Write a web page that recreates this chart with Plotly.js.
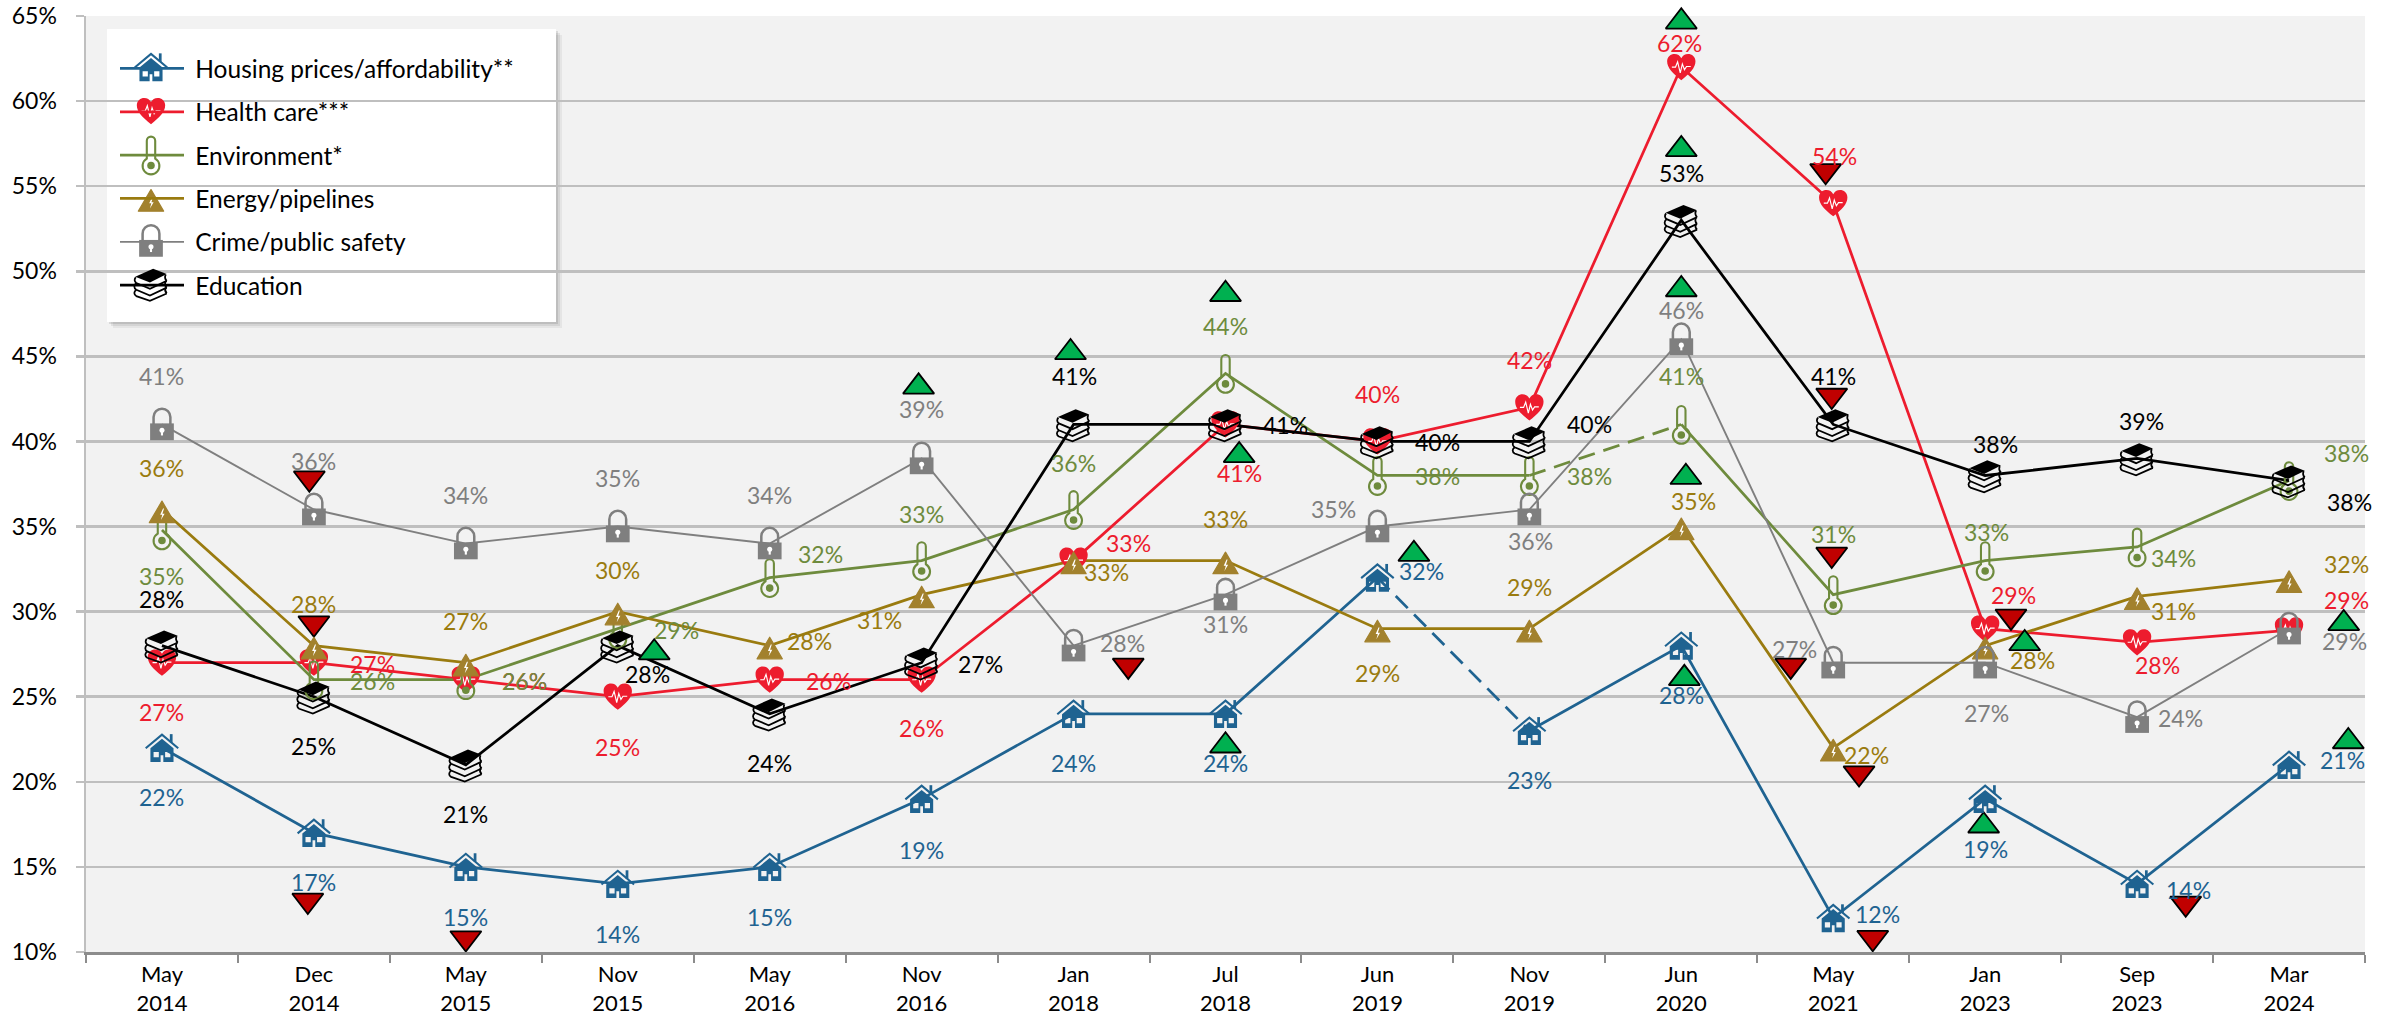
<!DOCTYPE html>
<html><head><meta charset="utf-8">
<script src="https://cdn.plot.ly/plotly-3.0.1.min.js"></script>
<style>html,body{margin:0;padding:0;background:#fff;overflow:hidden}#chart{width:2389px;height:1014px}</style>
</head><body><div id="chart"></div>
<script>
// ---------- data ----------
const months = ["May","Dec","May","Nov","May","Nov","Jan","Jul","Jun","Nov","Jun","May","Jan","Sep","Mar"];
const years  = ["2014","2014","2015","2015","2016","2016","2018","2018","2019","2019","2020","2021","2023","2023","2024"];
const housing   = [22,17,15,14,15,19,24,24,32,23,28,12,19,14,21];
const health    = [27,27,26,25,26,26,33,41,40,42,62,54,29,28.2,28.9];
const environment = [34.8,26,26,29,32,33,36,44,38,38,41,31,33,33.8,37.7];
const energy    = [36,28,27,30,28,31,33,33,29,29,35,22,28,30.9,31.9];
const crime     = [41,36,34,35,34,39,28,31,35,36,46,27,27,23.8,29];
const education = [28,25,21,28,24,27,41,41,40,40,53,41,38,39,37.7];
const seriesNames = ["Housing prices/affordability**","Health care***","Environment*","Energy/pipelines","Crime/public safety","Education"];
// change markers (category position, percent scale)
const upX   = [3.24,4.98,5.98,7.00,7.09,7.00,8.24,10.00,10.00,10.00,10.03,10.02,11.99,12.26,14.36,14.39];
const upY   = [27.59,43.21,45.23,48.65,39.18,22.12,33.38,64.66,57.16,48.93,37.90,26.08,17.42,28.13,29.31,22.37];
const downX = [0.97,1.00,0.96,2.00,6.36,10.95,10.99,10.99,10.72,11.17,11.26,12.17,13.32];
const downY = [37.84,29.32,13.03,10.82,26.84,55.90,42.70,33.36,26.84,20.51,10.84,29.72,12.86];

// ---------- label offsets (px from the point) ----------
const housingDx = [0,0,0,0,0,0,0,0,44,0,0,44,0,51,53];
const housingDy = [49,49,50,50,50,51,49,49,-7,49,49,-4,50,6,-5];
const healthDx = [0,59,59,0,59,0,55,14,0,0,-2,1,28,20,57];
const healthDy = [49,1,1,50,1,48,-18,49,-47,-47,-24,-47,-34,23,-30];
const envDx = [0,59,59,59,51,0,0,0,60,60,0,0,1,36,57];
const envDy = [46,1,1,1,-24,-47,-47,-47,1,1,-48,-61,-29,11,-28];
const energyDx = [0,0,0,0,40,-42,33,0,0,0,12,33,47,36,57];
const energyDy = [-42,-42,-42,-42,-5,25,11,-42,44,-42,-26,7,14,15,-15];
const crimeDx = [0,0,0,0,0,0,49,0,-44,1,0,-39,1,43,55];
const crimeDy = [-48,-49,-49,-49,-49,-49,-3,29,-18,31,-29,-14,50,1,12];
const eduDx = [0,0,0,30,0,59,1,60,60,60,0,0,10,4,60];
const eduDy = [-47,49,49,28,49,1,-48,1,1,-17,-47,-48,-31,-37,21];

// ---------- styles ----------
const C = {housing:"#1F6391",health:"#ED1C2E",env:"#6E8B3D",energy:"#9A7B0F",crime:"#7F7F7F",edu:"#000000"};
const FONT = "Lato, 'Open Sans', sans-serif";
const FS = 23;
const ICON = 42;
const L=86,R=2365,T=16,B=952,W=R-L,H=B-T,CW=W/15,PP=H/55;

const svg = s => "data:image/svg+xml;charset=utf-8," + encodeURIComponent('<svg xmlns="http://www.w3.org/2000/svg" width="160" height="160" viewBox="0 0 40 40">'+s+'</svg>');
const icons = {
 housing: svg(`<path d="M4.5,20.5 L20,7.5 L35.5,20.5" fill="none" stroke="${C.housing}" stroke-width="2"/><rect x="27.5" y="7" width="2.6" height="8" fill="${C.housing}"/><path fill-rule="evenodd" fill="${C.housing}" d="M9,20.5 L20,11.5 L31,20.5 V33.5 H9 Z M12,24 V29 H17 V24 Z M23,24 V29 H28 V24 Z M18.7,27 V33.5 H21.3 V27 Z"/>`),
 health: svg(`<path fill="${C.health}" d="M20,32.5 C12,26 6.5,21 6.5,14.5 C6.5,10 10,7.5 13.5,7.5 C16.5,7.5 18.7,9 20,11.5 C21.3,9 23.5,7.5 26.5,7.5 C30,7.5 33.5,10 33.5,14.5 C33.5,21 28,26 20,32.5 Z"/><path d="M11,20 H14.5 L16.5,15 L19,25.5 L21,17 L23,22.5 L25,19.5 H29" fill="none" stroke="#fff" stroke-width="1.1"/>`),
 env: svg(`<path fill="none" stroke="${C.env}" stroke-width="2" d="M16,23.5 V6.5 A4,4 0 0 1 24,6.5 V23.5 A8,8 0 1 1 16,23.5 Z"/><circle cx="20" cy="30" r="3.6" fill="${C.env}"/>`),
 energy: svg(`<path fill="#A2812D" stroke="#A2812D" stroke-width="1.2" stroke-linejoin="round" d="M20,12 L32,32.5 H8 Z"/><path fill="#fff" d="M21,19 L18.3,25 H20.3 L19,30 L22.5,24 H20.4 L22,19 Z"/>`),
 crime: svg(`<path d="M12,20 V13 A8,8 0 0 1 28,13 V20" fill="none" stroke="${C.crime}" stroke-width="2.4"/><rect x="8.7" y="19" width="22.6" height="16" fill="${C.crime}"/><circle cx="20" cy="25.5" r="2.4" fill="#fff"/><rect x="19" y="25.5" width="2" height="5" fill="#fff"/>`),
 edu: svg(`<path fill="#000" d="M5,13 L22,5.5 L35,10.5 L19,18.5 Z"/><g fill="none" stroke="#000" stroke-width="1.7"><path d="M5.5,13.5 C4,15.5 4,17.5 6,19 L19,24.5 L35,17"/><path d="M34,11 C33,13 33,15 35,17"/><path d="M6,19 C3.5,21 3.5,24 6,25.5 L19,31 L35,23.5"/><path d="M34,17.5 C33,19.5 33,21.5 35,23.5"/><path d="M6,25.5 C3.5,27.5 3.5,30 6,31.5 L19,36 L35,29"/><path d="M34,23.5 C33,25.5 33,27 35,29"/></g>`)
};
const defs = [
 {key:"housing",name:seriesNames[0],vals:housing,dx:housingDx,dy:housingDy,width:2.75,dashSeg:8},
 {key:"health",name:seriesNames[1],vals:health,dx:healthDx,dy:healthDy,width:2.75},
 {key:"env",name:seriesNames[2],vals:environment,dx:envDx,dy:envDy,width:2.75,dashSeg:9},
 {key:"energy",name:seriesNames[3],vals:energy,dx:energyDx,dy:energyDy,width:2.75},
 {key:"crime",name:seriesNames[4],vals:crime,dx:crimeDx,dy:crimeDy,width:1.9},
 {key:"edu",name:seriesNames[5],vals:education,dx:eduDx,dy:eduDy,width:2.75}
];
const idx = months.map((_,i)=>i);
const traces = [];
defs.forEach(d=>{
  const base = {type:"scatter",mode:"lines",cliponaxis:false,legendgroup:d.key,name:"\u00A0"+d.name,hoverinfo:"skip"};
  const line = {color:C[d.key],width:d.width};
  if(d.dashSeg===undefined){
    traces.push({...base,x:idx,y:d.vals,line,showlegend:true});
  }else{
    const k=d.dashSeg;
    traces.push({...base,x:idx.slice(0,k+1),y:d.vals.slice(0,k+1),line,showlegend:true});
    traces.push({...base,x:idx.slice(k,k+2),y:d.vals.slice(k,k+2),line:{...line,dash:"17px,9px"},showlegend:false});
    traces.push({...base,x:idx.slice(k+1),y:d.vals.slice(k+1),line,showlegend:false});
  }
});
traces.push({type:"scatter",mode:"markers",cliponaxis:false,x:upX,y:upY,showlegend:false,hoverinfo:"skip",name:"Up",
  marker:{symbol:"triangle-up",size:27,color:"#00B050",line:{color:"#000",width:1.8}}});
traces.push({type:"scatter",mode:"markers",cliponaxis:false,x:downX,y:downY,showlegend:false,hoverinfo:"skip",name:"Down",
  marker:{symbol:"triangle-down",size:27,color:"#C00000",line:{color:"#000",width:1.8}}});

const px = v=>(v-L)/W, py = v=>1-(v-T)/H;
const images=[], annotations=[];
// Plotly keys images by position and size, so each series gets a negligible nudge to keep coincident icons
defs.forEach((d,s)=>{
  d.vals.forEach((v,i)=>{
    images.push({source:icons[d.key],xref:"x",yref:"y",x:i+s*1e-5,y:v,sizex:ICON/CW,sizey:ICON/PP,xanchor:"center",yanchor:"middle",sizing:"stretch",layer:"above"});
  });
});
// label order: health first so the environment 26% covers it at May 2015
[defs[0],defs[1],defs[3],defs[4],defs[2],defs[5]].forEach(d=>{
  d.vals.forEach((v,i)=>{
    annotations.push({xref:"x",yref:"y",x:i,y:v,xshift:d.dx[i],yshift:-d.dy[i],xanchor:"center",yanchor:"middle",showarrow:false,
      text:Math.round(v)+"%",font:{family:FONT,size:FS,color:C[d.key]}});
  });
});
// legend panel and icons
const legendRows=[67,111,155,198,241,284];
defs.forEach((d,i)=>{
  images.push({source:icons[d.key],xref:"paper",yref:"paper",x:px(151),y:py(legendRows[i]),sizex:ICON/W,sizey:ICON/H,xanchor:"center",yanchor:"middle",sizing:"stretch",layer:"above"});
});
const panel=(o,col,op)=>({type:"rect",xref:"paper",yref:"paper",layer:"between",x0:px(107+o),x1:px(556+o),y0:py(29+o),y1:py(322+o),fillcolor:col,opacity:op,line:{width:0}});
const shapes=[panel(6,"#000",0.05),panel(4,"#000",0.07),panel(2,"#000",0.10),panel(0,"#fff",1)];

const layout={
  width:2389,height:1014,autosize:false,
  margin:{l:L,r:2389-R,t:T,b:1014-B,pad:0,autoexpand:false},
  paper_bgcolor:"#fff",plot_bgcolor:"#F2F2F2",
  font:{family:FONT,size:FS,color:"#000"},
  hovermode:false,
  xaxis:{range:[-0.5,14.5],tickmode:"array",tickvals:idx,ticktext:months.map((m,i)=>m+"<br>"+years[i]),
    ticks:"outside",ticklen:1,tickcolor:"rgba(0,0,0,0)",tickwidth:2,showgrid:false,zeroline:false,showline:true,linecolor:"#8C8C8C",linewidth:2.5,
    tickfont:{family:FONT,size:22,color:"#000"},
    minor:{tickmode:"array",tickvals:[-0.5].concat(idx.map(i=>i+0.5)),ticks:"outside",ticklen:8,tickwidth:2,tickcolor:"#8C8C8C",showgrid:false}},
  yaxis:{range:[10,65],tickmode:"linear",tick0:10,dtick:5,ticksuffix:"%",ticks:"outside",ticklen:8,tickcolor:"#BFBFBF",tickwidth:2.5,
    gridcolor:"#BFBFBF",gridwidth:2.5,zeroline:false,showline:true,linecolor:"#BFBFBF",linewidth:2.5,ticklabelstandoff:14,
    tickfont:{family:FONT,size:FS,color:"#000"}},
  legend:{x:px(115),xanchor:"left",y:py(46),yanchor:"top",bgcolor:"rgba(0,0,0,0)",borderwidth:0,itemwidth:64,itemclick:false,itemdoubleclick:false,
    tracegroupgap:8.5,traceorder:"grouped",font:{family:FONT,size:24.5,color:"#000"}},
  images,annotations,shapes,showlegend:true
};
Plotly.newPlot("chart",traces,layout,{displayModeBar:false,staticPlot:true});
</script></body></html>
